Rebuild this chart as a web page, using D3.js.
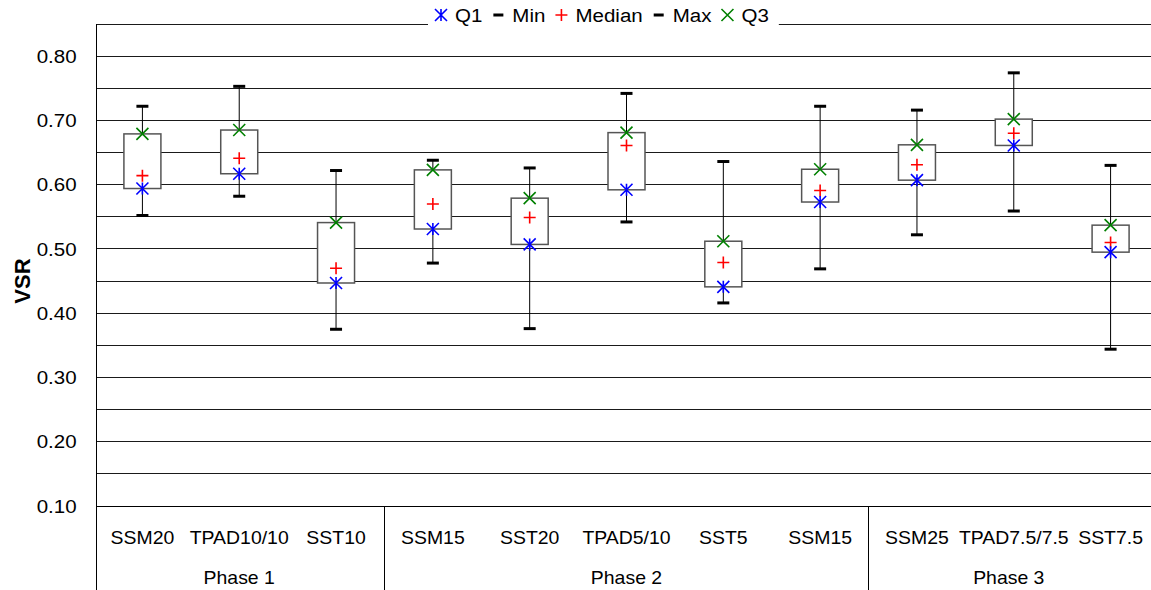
<!DOCTYPE html>
<html>
<head>
<meta charset="utf-8">
<script src="https://cdn.jsdelivr.net/npm/d3@7"></script>
<style>
  body { margin: 0; background: #fff; }
  svg { display: block; font-family: "Liberation Sans", Arial, sans-serif; }
</style>
</head>
<body>
<svg width="1151" height="590"></svg>
<script>
(function() {
    'use strict';
    // categories and phase groups
    let categories = ["SSM20", "TPAD10/10", "SST10", "SSM15", "SST20", "TPAD5/10", "SST5", "SSM15", "SSM25", "TPAD7.5/7.5", "SST7.5"];
    let phases = ["Phase 1", "Phase 2", "Phase 3"];
    let phaseSizes = [3, 5, 3];

    // series values
    let minVals    = [0.552, 0.582, 0.375, 0.478, 0.376, 0.542, 0.416, 0.469, 0.522, 0.559, 0.344];
    let q1Vals     = [0.594, 0.617, 0.447, 0.531, 0.507, 0.592, 0.441, 0.573, 0.607, 0.661, 0.495];
    let medianVals = [0.614, 0.641, 0.470, 0.570, 0.549, 0.661, 0.479, 0.591, 0.631, 0.680, 0.510];
    let q3Vals     = [0.679, 0.685, 0.541, 0.623, 0.579, 0.681, 0.512, 0.624, 0.662, 0.702, 0.537];
    let maxVals    = [0.722, 0.753, 0.622, 0.638, 0.626, 0.742, 0.636, 0.722, 0.716, 0.774, 0.630];

    let yTicks = [0.10, 0.20, 0.30, 0.40, 0.50, 0.60, 0.70, 0.80];
    let gridVals = [0.15, 0.20, 0.25, 0.30, 0.35, 0.40, 0.45, 0.50, 0.55, 0.60, 0.65, 0.70, 0.75, 0.80, 0.85];

    let width = 1151, height = 590;
    let left = 96, top = 24, bottom = 506;
    let stretch = 1.08;   // the source text is a bit wider than Arial
    let svg = d3.select("svg");

    let yScale = d3.scaleLinear().domain([0.10, 0.85]).range([bottom, top]);
    let xScale = d3.scaleBand().domain(d3.range(categories.length)).range([94, 1159]).padding(0);
    let boxW = 37, capW = 12;

    function label(sel, x, y, txt, size, anchor) {
        return sel.append("text")
            .attr("transform", `translate(${x},${y}) scale(${stretch},1)`)
            .attr("text-anchor", anchor || "middle")
            .style("font-size", size + "px")
            .text(txt);
    }

    // grid lines
    svg.append("g").selectAll("line").data(gridVals).join("line")
        .attr("x1", left).attr("x2", width)
        .attr("y1", d => yScale(d)).attr("y2", d => yScale(d))
        .attr("stroke", "#1a1a1a").attr("stroke-width", 1)
        .attr("shape-rendering", "crispEdges");

    // y axis
    let yAxis = d3.axisLeft(yScale).tickValues(yTicks).tickSize(0).tickPadding(18).tickFormat(d3.format(".2f"));
    let yg = svg.append("g").attr("transform", `translate(${left},0)`).call(yAxis);
    yg.select(".domain").remove();
    yg.selectAll("text").style("font-size", "19px").attr("fill", "#000")
        .attr("transform", `scale(${stretch},1)`);

    svg.append("text")
        .attr("text-anchor", "middle")
        .attr("transform", `translate(30,281)rotate(-90)`)
        .style("font-size", "22px").style("font-weight", "bold")
        .text("VSR");

    // frame lines
    svg.append("line").attr("x1", left).attr("x2", left).attr("y1", top).attr("y2", height)
        .attr("stroke", "#000").attr("shape-rendering", "crispEdges");
    svg.append("line").attr("x1", left).attr("x2", width).attr("y1", bottom).attr("y2", bottom)
        .attr("stroke", "#000").attr("shape-rendering", "crispEdges");

    // category labels
    categories.forEach(function(c, i) {
        label(svg, xScale(i) + xScale.bandwidth() / 2, 544, c, 18);
    });

    // phase separators and labels
    let start = 0;
    phases.forEach(function(p, k) {
        let end = start + phaseSizes[k];
        let x0 = xScale(start), x1 = xScale(end - 1) + xScale.bandwidth();
        if (k > 0) {
            svg.append("line").attr("x1", x0).attr("x2", x0).attr("y1", bottom).attr("y2", height)
                .attr("stroke", "#000").attr("shape-rendering", "crispEdges");
        }
        label(svg, k === 2 ? (x0 + width) / 2 - 1 : (x0 + x1) / 2, 584, p, 18);
        start = end;
    });

    // boxes
    let g = svg.append("g");
    categories.forEach(function(c, i) {
        let cx = xScale(i) + xScale.bandwidth() / 2;
        g.append("line").attr("x1", cx).attr("x2", cx)
            .attr("y1", yScale(maxVals[i])).attr("y2", yScale(minVals[i]))
            .attr("stroke", "#000").attr("stroke-width", 1);
        g.append("rect")
            .attr("x", cx - boxW / 2).attr("width", boxW)
            .attr("y", yScale(q3Vals[i])).attr("height", yScale(q1Vals[i]) - yScale(q3Vals[i]))
            .attr("fill", "#fff").attr("stroke", "#555").attr("stroke-width", 1.5);
        [maxVals[i], minVals[i]].forEach(function(v) {
            g.append("line").attr("x1", cx - capW / 2).attr("x2", cx + capW / 2)
                .attr("y1", yScale(v)).attr("y2", yScale(v))
                .attr("stroke", "#000").attr("stroke-width", 3);
        });
        drawMarker(g, "cross", cx, yScale(medianVals[i]));
        drawMarker(g, "star", cx, yScale(q1Vals[i]));
        drawMarker(g, "x", cx, yScale(q3Vals[i]));
    });

    function drawMarker(sel, type, x, y) {
        let r = 6, d;
        if (type === "cross") {
            d = `M${x - r},${y}H${x + r}M${x},${y - r}V${y + r}`;
            sel.append("path").attr("d", d).attr("stroke", "#ff0000").attr("stroke-width", 1.6).attr("fill", "none");
        } else if (type === "x") {
            d = `M${x - r},${y - r}L${x + r},${y + r}M${x - r},${y + r}L${x + r},${y - r}`;
            sel.append("path").attr("d", d).attr("stroke", "#008000").attr("stroke-width", 1.6).attr("fill", "none");
        } else if (type === "star") {
            d = `M${x - r},${y - r}L${x + r},${y + r}M${x - r},${y + r}L${x + r},${y - r}M${x},${y - r}V${y + r}`;
            sel.append("path").attr("d", d).attr("stroke", "#0000ff").attr("stroke-width", 1.6).attr("fill", "none");
        } else {
            d = `M${x - 5},${y}H${x + 5}`;
            sel.append("path").attr("d", d).attr("stroke", "#000").attr("stroke-width", 3).attr("fill", "none");
        }
    }

    // legend
    let legendItems = [
        {label: "Q1", type: "star"},
        {label: "Min", type: "dash"},
        {label: "Median", type: "cross"},
        {label: "Max", type: "dash"},
        {label: "Q3", type: "x"}
    ];
    let lg = svg.append("g");
    let bg = lg.append("rect").attr("fill", "#fff").attr("y", 6).attr("height", 24);
    let lx = 441, ly = 15;
    legendItems.forEach(function(it) {
        drawMarker(lg, it.type, lx, ly);
        let t = label(lg, lx + 14, ly + 7, it.label, 19, "start");
        lx = lx + 14 + t.node().getComputedTextLength() * stretch + 16;
    });
    bg.attr("x", 428).attr("width", lx - 16 + 10 - 428);
})();
</script>
</body>
</html>
